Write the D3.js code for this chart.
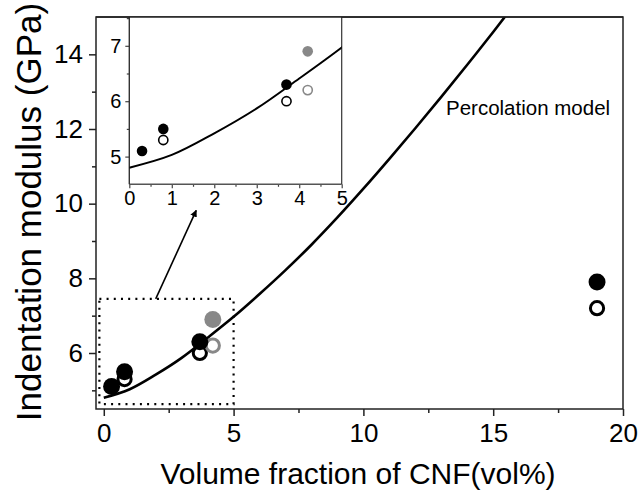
<!DOCTYPE html>
<html><head><meta charset="utf-8">
<script src="https://cdn.jsdelivr.net/npm/d3@7"></script>
<style>html,body{margin:0;padding:0;background:#fff;} svg{display:block;font-family:"Liberation Sans",Arial,sans-serif;}</style>
</head><body>
<script>
// ---- data ----
const filledX = [0.3, 0.8, 3.7, 19.0];
const filledY = [5.1, 5.5, 6.3, 7.9];
const openX = [0.8, 3.7, 19.0];
const openY = [5.3, 6.0, 7.2];
const grayFilledX = [4.2];
const grayFilledY = [6.9];
const grayOpenX = [4.2];
const grayOpenY = [6.2];
const curveX = [0, 1, 2, 3, 4, 5, 6, 7, 8, 9, 10, 11, 12, 13, 14, 15, 15.5];
const curveY = [4.80, 5.03, 5.42, 5.87, 6.41, 6.97, 7.58, 8.22, 8.90, 9.63, 10.40, 11.20, 12.02, 12.86, 13.72, 14.60, 15.05];
const xTicks = [0, 5, 10, 15, 20];
const yTicks = [6, 8, 10, 12, 14];
const insetXTicks = [0, 1, 2, 3, 4, 5];
const insetYTicks = [5, 6, 7];
const xTitle = "Volume fraction of CNF(vol%)";
const yTitle = "Indentation modulus (GPa)";
const modelLabel = "Percolation model";
const zoomBoxX = [-0.17, 5.0];
const zoomBoxY = [4.63, 7.45];
const arrowFrom = [2.0, 7.45];
const arrowTo = [3.56, 9.82];

const W = 640, H = 492;
const svg = d3.select("body").append("svg").attr("width", W).attr("height", H);

// ---- main scales ----
const x = d3.scaleLinear().domain([-0.3, 20]).range([96, 623]);
const y = d3.scaleLinear().domain([4.5, 15]).range([409, 17]);
const axisColor = "#222";

const defs = svg.append("defs");
defs.append("clipPath").attr("id", "mainclip").append("rect")
  .attr("x", 96).attr("y", 17).attr("width", 527).attr("height", 392);
defs.append("marker").attr("id", "arrowhead").attr("viewBox", "0 0 10 10")
  .attr("refX", 9).attr("refY", 5).attr("markerWidth", 7).attr("markerHeight", 7)
  .attr("markerUnits", "userSpaceOnUse").attr("orient", "auto")
  .append("path").attr("d", "M0,0 L10,5 L0,10 Z").attr("fill", "#000");

// axes
const gx = svg.append("g").attr("transform", `translate(0,409)`)
  .call(d3.axisBottom(x).tickValues(xTicks).tickSize(7).tickPadding(8).tickFormat(d3.format("d")));
const gxm = svg.append("g").attr("transform", `translate(0,409)`)
  .call(d3.axisBottom(x).tickValues([2.5, 7.5, 12.5, 17.5]).tickSize(4).tickFormat(""));
const gy = svg.append("g").attr("transform", `translate(96,0)`)
  .call(d3.axisLeft(y).tickValues(yTicks).tickSize(7).tickPadding(6).tickFormat(d3.format("d")));
const gym = svg.append("g").attr("transform", `translate(96,0)`)
  .call(d3.axisLeft(y).tickValues([5, 7, 9, 11, 13]).tickSize(4).tickFormat(""));
[gx, gxm, gy, gym].forEach(g => {
  g.select(".domain").remove();
  g.selectAll(".tick line").attr("stroke", axisColor).attr("stroke-width", 1.5);
  g.selectAll("text").attr("font-size", 26).attr("fill", "#000")
   .attr("font-family", '"Liberation Sans",Arial,sans-serif');
});
// frame
svg.append("rect").attr("x", 96).attr("y", 17).attr("width", 527).attr("height", 392)
  .attr("fill", "none").attr("stroke", axisColor).attr("stroke-width", 1.5);

// titles
svg.append("text").attr("x", 358).attr("y", 484).attr("text-anchor", "middle")
  .attr("font-size", 30).text(xTitle);
svg.append("text").attr("transform", "translate(41,212) rotate(-90)").attr("text-anchor", "middle")
  .attr("font-size", 35).text(yTitle);

// curve
const line = d3.line().x((d, i) => x(curveX[i])).y((d, i) => y(curveY[i])).curve(d3.curveCatmullRom);
svg.append("path").datum(curveX).attr("d", line).attr("fill", "none")
  .attr("stroke", "#000").attr("stroke-width", 2.6).attr("clip-path", "url(#mainclip)");

svg.append("text").attr("x", 446).attr("y", 115).attr("font-size", 20.5).text(modelLabel);

// dotted zoom box
svg.append("rect").attr("x", x(zoomBoxX[0])).attr("y", y(zoomBoxY[1]))
  .attr("width", x(zoomBoxX[1]) - x(zoomBoxX[0])).attr("height", y(zoomBoxY[0]) - y(zoomBoxY[1]))
  .attr("fill", "none").attr("stroke", "#000").attr("stroke-width", 2.2)
  .attr("stroke-dasharray", "2,5.2");

// arrow
svg.append("line").attr("x1", x(arrowFrom[0])).attr("y1", y(arrowFrom[1]))
  .attr("x2", x(arrowTo[0])).attr("y2", y(arrowTo[1]))
  .attr("stroke", "#000").attr("stroke-width", 1.6).attr("marker-end", "url(#arrowhead)");

// points main
function drawPts(g, xs, ys, sx, sy, kind, rF, rO, sw) {
  g.selectAll(null).data(xs).enter().append("circle")
    .attr("cx", (d) => sx(d)).attr("cy", (d, i) => sy(ys[i]))
    .attr("r", kind.filled ? rF : rO)
    .attr("fill", kind.filled ? kind.color : "none")
    .attr("stroke", kind.filled ? "none" : kind.color)
    .attr("stroke-width", kind.filled ? 0 : sw);
}
const pm = svg.append("g");
drawPts(pm, openX, openY, x, y, {filled: false, color: "#000"}, 8.5, 6.6, 3);
drawPts(pm, grayOpenX, grayOpenY, x, y, {filled: false, color: "#888"}, 8.5, 6.6, 3);
drawPts(pm, filledX, filledY, x, y, {filled: true, color: "#000"}, 8.5, 6.6, 3);
drawPts(pm, grayFilledX, grayFilledY, x, y, {filled: true, color: "#888"}, 8.5, 6.6, 3);

// ---- inset ----
const ix = d3.scaleLinear().domain([0, 5]).range([129.3, 341.7]);
const iy = d3.scaleLinear().domain([4.5, 7.52]).range([184.3, 17]);
const ins = svg.append("g");
ins.append("rect").attr("x", 129.3).attr("y", 17).attr("width", 212.4).attr("height", 167.3)
  .attr("fill", "#fff");
defs.append("clipPath").attr("id", "insclip").append("rect")
  .attr("x", 129.3).attr("y", 17).attr("width", 212.4).attr("height", 167.3);
const igx = ins.append("g").attr("transform", "translate(0,184.3)")
  .call(d3.axisBottom(ix).tickValues(insetXTicks).tickSize(4).tickPadding(3).tickFormat(d3.format("d")));
const igxm = ins.append("g").attr("transform", "translate(0,184.3)")
  .call(d3.axisBottom(ix).tickValues([0.5, 1.5, 2.5, 3.5, 4.5]).tickSize(2.5).tickFormat(""));
const igy = ins.append("g").attr("transform", "translate(129.3,0)")
  .call(d3.axisLeft(iy).tickValues(insetYTicks).tickSize(4).tickPadding(4).tickFormat(d3.format("d")));
const igym = ins.append("g").attr("transform", "translate(129.3,0)")
  .call(d3.axisLeft(iy).tickValues([5.5, 6.5, 7.5]).tickSize(2.5).tickFormat(""));
[igx, igxm, igy, igym].forEach(g => {
  g.select(".domain").remove();
  g.selectAll(".tick line").attr("stroke", "#444").attr("stroke-width", 1.2);
  g.selectAll("text").attr("font-size", 20).attr("fill", "#000")
   .attr("font-family", '"Liberation Sans",Arial,sans-serif');
});
ins.append("line").attr("x1", 129.3).attr("x2", 341.7).attr("y1", 184.3).attr("y2", 184.3)
  .attr("stroke", "#555").attr("stroke-width", 1.4);
ins.append("line").attr("x1", 129.3).attr("x2", 129.3).attr("y1", 17).attr("y2", 184.3)
  .attr("stroke", "#333").attr("stroke-width", 1.4);
ins.append("line").attr("x1", 341.7).attr("x2", 341.7).attr("y1", 17).attr("y2", 184.3)
  .attr("stroke", "#333").attr("stroke-width", 1.2);

const iline = d3.line().x((d, i) => ix(curveX[i])).y((d, i) => iy(curveY[i])).curve(d3.curveCatmullRom);
ins.append("path").datum(curveX).attr("d", iline).attr("fill", "none")
  .attr("stroke", "#000").attr("stroke-width", 2).attr("clip-path", "url(#insclip)");

drawPts(ins, openX.filter(v => v <= 5), openY, ix, iy, {filled: false, color: "#000"}, 5.3, 4.6, 1.6);
drawPts(ins, grayOpenX, grayOpenY, ix, iy, {filled: false, color: "#888"}, 5.3, 4.6, 1.6);
drawPts(ins, filledX.filter(v => v <= 5), filledY, ix, iy, {filled: true, color: "#000"}, 5.3, 4.6, 1.6);
drawPts(ins, grayFilledX, grayFilledY, ix, iy, {filled: true, color: "#888"}, 5.3, 4.6, 1.6);
// redraw top frame line over inset
svg.append("line").attr("x1", 96).attr("x2", 623).attr("y1", 17).attr("y2", 17)
  .attr("stroke", axisColor).attr("stroke-width", 1.5);
</script>
</body></html>
